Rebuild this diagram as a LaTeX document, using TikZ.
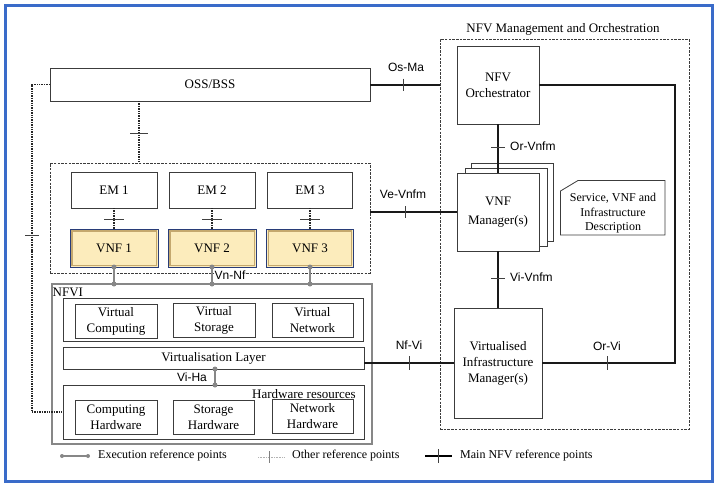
\documentclass[tikz,border=0pt]{standalone}
\usepackage{fontspec}
\usetikzlibrary{calc}
\setmainfont{Liberation Serif}
\newfontfamily\lsans{Liberation Sans}
\definecolor{frameblue}{RGB}{58,107,201}
\definecolor{vnfyellow}{RGB}{252,236,188}
\definecolor{vnftan}{RGB}{196,168,110}
\definecolor{vnfnavy}{RGB}{40,60,120}
\definecolor{exegray}{RGB}{135,135,135}
\definecolor{linegray}{RGB}{60,60,60}
\tikzset{
  box/.style={draw=linegray, line width=0.8pt, fill=white, inner sep=0pt, outer sep=0pt, align=center,
    font=\fontsize{13}{16}\selectfont},
  vnfbox/.style={draw=vnfnavy, line width=0.7pt, fill=vnfyellow, inner sep=0pt, outer sep=0pt,
    font=\fontsize{13}{16}\selectfont},
  dashbox/.style={draw=linegray, line width=0.8pt, dash pattern=on 2.5pt off 1.2pt, inner sep=0pt, outer sep=0pt},
  nfvibox/.style={draw=exegray, line width=1.2pt, inner sep=0pt, outer sep=0pt},
  lbl/.style={font=\lsans\fontsize{12}{13}\selectfont, inner sep=1pt},
  serlbl/.style={font=\fontsize{13}{16}\selectfont, inner sep=0pt},
  leglbl/.style={font=\fontsize{12}{14}\selectfont, inner sep=0pt, anchor=west},
  mainln/.style={line width=2pt, black!90},
  othln/.style={line width=1.5pt, black!85, dash pattern=on 1.4pt off 1pt},
  exeln/.style={line width=2pt, exegray},
  tickln/.style={line width=0.8pt, black!75},
  exedot/.style={circle, fill=exegray, inner sep=0pt, minimum size=5pt}
}
\begin{document}
\begin{tikzpicture}[x=1pt,y=-1pt]
\useasboundingbox (0,0) rectangle (725,491);
\draw[line width=3pt, frameblue] (5.5,5.5) rectangle (712.5,481.5);

% ---------- left part ----------
\node[box, minimum width=320pt, minimum height=33pt] (oss) at (210,84.5) {OSS/BSS};
\node[dashbox, minimum width=320pt, minimum height=110pt] (vnfarea) at (210,218) {};

\node[box, minimum width=86pt, minimum height=36pt] (em1) at (114,190) {EM 1};
\node[box, minimum width=86pt, minimum height=36pt] (em2) at (212,190) {EM 2};
\node[box, minimum width=85pt, minimum height=36pt] (em3) at (310,190) {EM 3};

\node[vnfbox, minimum width=88pt, minimum height=38pt] (vnf1) at (114,248) {VNF 1};
\node[vnfbox, minimum width=88pt, minimum height=38pt] (vnf2) at (212,248) {VNF 2};
\node[vnfbox, minimum width=87pt, minimum height=38pt] (vnf3) at (310,248) {VNF 3};
\foreach \v in {vnf1,vnf2,vnf3}{
  \draw[vnftan, line width=1.4pt] ([shift={(1.8,1.8)}]\v.north west) rectangle ([shift={(-1.8,-1.8)}]\v.south east);
}

% NFVI
\node[nfvibox, minimum width=320pt, minimum height=160pt] (nfvi) at (212,364) {};
\node[serlbl, anchor=west] (nfvilbl) at (52.5,292) {NFVI};
\node[box, minimum width=300pt, minimum height=43pt] (vrow) at (213,319.5) {};
\node[box, minimum width=82pt, minimum height=34pt] (vc) at (116,321) {Virtual\\Computing};
\node[box, minimum width=82pt, minimum height=34pt] (vs) at (214,320) {Virtual\\Storage};
\node[box, minimum width=81pt, minimum height=34pt] (vn) at (312.5,320) {Virtual\\Network};
\node[box, minimum width=301pt, minimum height=22pt] (vl) at (213.5,358) {Virtualisation Layer};
\node[box, minimum width=301pt, minimum height=54pt] (hw) at (213.5,412) {};
\node[serlbl, anchor=east] (hwlbl) at (356,394) {Hardware resources};
\node[box, minimum width=82pt, minimum height=34pt] (ch) at (116,417) {Computing\\Hardware};
\node[box, minimum width=81pt, minimum height=34pt] (sh) at (213.5,417) {Storage\\Hardware};
\node[box, minimum width=81pt, minimum height=34pt] (nh) at (312.5,416) {Network\\Hardware};

% ---------- MANO ----------
\node[dashbox, minimum width=249pt, minimum height=390pt] (mano) at (564.5,234) {};
\node[serlbl] (manolbl) at (563,29) {NFV Management and Orchestration};
\node[box, minimum width=82pt, minimum height=78pt] (orch) at (498,85) {NFV\\Orchestrator};
\node[box, minimum width=82pt, minimum height=78pt] (mgr3) at (512,202) {};
\node[box, minimum width=82pt, minimum height=78pt] (mgr2) at (506,207) {};
\node[box, minimum width=82pt, minimum height=78pt, font=\fontsize{13}{19}\selectfont] (mgr) at (498,212) {VNF\\Manager(s)};
\node[box, minimum width=88pt, minimum height=110pt] (vim) at (498,363) {Virtualised\\Infrastructure\\Manager(s)};
\draw[linegray, line width=0.8pt] (578,180.5) -- (665,180.5) -- (665,235) -- (560.5,235) -- (560.5,191) -- cycle;
\node[align=center, inner sep=0pt, font=\fontsize{12}{14.5}\selectfont] (doc) at (613,213.5) {Service, VNF and\\Infrastructure\\Description};

% ---------- coordinates ----------
\coordinate (lx) at (32,250);
\coordinate (ox) at (139,0);
\coordinate (vx) at (215,0);
\coordinate (rx) at (675,200);

% ---------- other reference points (dotted) ----------
\draw[othln] (oss.west) -| (lx) |- (hw.west);
\draw[tickln] (25,235) -- (39,235);
\draw[othln] (oss.south -| ox) -- (vnfarea.north -| ox);
\draw[tickln] (130,133) -- (148,133);
\foreach \e/\v in {em1/vnf1,em2/vnf2,em3/vnf3}{
  \draw[othln] (\e.south) -- (\v.north);
  \draw[tickln] ([xshift=-10pt]$(\e.south)!0.55!(\v.north)$) -- ([xshift=10pt]$(\e.south)!0.55!(\v.north)$);
}

% ---------- execution reference points ----------
\draw[exeln] (vnf1.south) -- (vnf1.south |- nfvi.north);
\draw[exeln] (vnf2.south) -- (vnf2.south |- nfvi.north);
\draw[exeln] (vnf3.south) -- (vnf3.south |- nfvi.north);
\draw[exeln] (vnf1.south |- nfvi.north) -- (vnf3.south |- nfvi.north);
\foreach \v in {vnf1,vnf2,vnf3}{
  \node[exedot] at (\v.south) {};
  \node[exedot] at (\v.south |- nfvi.north) {};
}
\node[lbl, anchor=west, fill=white, inner sep=0.5pt] (vnnf) at (214,275) {Vn-Nf};
\draw[exeln] (vl.south -| vx) -- (hw.north -| vx);
\node[exedot] at (vl.south -| vx) {};
\node[exedot] at (hw.north -| vx) {};
\node[lbl] (viha) at (192,377) {Vi-Ha};

% ---------- main reference points ----------
\draw[mainln] (oss.east) -- (oss.east -| mano.west);
\draw[tickln] (403,78.5) -- (403,90.5);
\node[lbl] (osma) at (406,67) {Os-Ma};

\draw[mainln] (mgr.west -| vnfarea.east) -- (mgr.west);
\draw[tickln] (405,206) -- (405,218);
\node[lbl] (vevnfm) at (403,194) {Ve-Vnfm};

\draw[mainln] (vim.west -| vl.east) -- (vim.west);
\draw[tickln] (409,356) -- (409,370);
\node[lbl] (nfvi2) at (409,345) {Nf-Vi};

\draw[mainln] (orch.east) -| (rx) |- (vim.east);
\draw[tickln] (607,356) -- (607,370);
\node[lbl] (orvi) at (607,346) {Or-Vi};

\draw[mainln] (orch.south) -- (mgr.north);
\draw[tickln] (491,147) -- (505,147);
\node[lbl, anchor=west] (orvnfm) at (509,146) {Or-Vnfm};

\draw[mainln] (mgr.south) -- (vim.north);
\draw[tickln] (491,278) -- (505,278);
\node[lbl, anchor=west] (vivnfm) at (509,277) {Vi-Vnfm};

% ---------- legend ----------
\draw[exeln] (62,456) -- (88,456);
\node[exedot, minimum size=4pt] at (62,456) {};
\node[exedot, minimum size=4pt] at (88,456) {};
\node[leglbl] (leg1) at (98,456) {Execution reference points};
\draw[black!30, line width=0.6pt, dash pattern=on 1pt off 0.6pt] (258,457) -- (285,457);
\draw[black!50, line width=0.7pt] (269,451) -- (269,463);
\node[leglbl] (leg2) at (292,456) {Other reference points};
\draw[black, line width=2pt] (425,456) -- (452,456);
\draw[tickln] (438,449) -- (438,463);
\node[leglbl] (leg3) at (460,456) {Main NFV reference points};
\end{tikzpicture}
\end{document}
